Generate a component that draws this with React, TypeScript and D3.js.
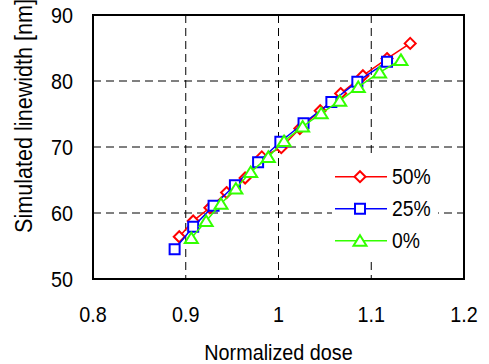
import React from 'react';
import * as d3 from 'd3';

// values
const dose50 = [0.893, 0.908, 0.926, 0.944, 0.964, 0.982, 1.003, 1.023, 1.045, 1.067, 1.091, 1.117, 1.142];
const lw50 = [56.4, 58.8, 60.8, 63.1, 65.3, 68.5, 69.9, 72.8, 75.5, 78.1, 80.8, 83.4, 85.7];
const dose25 = [0.888, 0.908, 0.930, 0.953, 0.978, 1.002, 1.027, 1.057, 1.085, 1.117];
const lw25 = [54.5, 57.9, 61.1, 64.2, 67.7, 70.8, 73.6, 76.8, 79.9, 82.9];
const dose0 = [0.906, 0.922, 0.938, 0.954, 0.970, 0.989, 1.006, 1.026, 1.046, 1.066, 1.086, 1.109, 1.132];
const lw0 = [56.2, 58.8, 61.4, 63.7, 66.2, 68.5, 70.9, 73.1, 75.1, 77.0, 79.1, 81.3, 83.2];

const xTicks = [0.8, 0.9, 1, 1.1, 1.2];
const xTickLabels = ['0.8', '0.9', '1', '1.1', '1.2'];
const yTicks = [50, 60, 70, 80, 90];
const seriesNames = ['50%', '25%', '0%'];

const W = 489;
const H = 364;
const plot = { left: 93, right: 464, top: 15, bottom: 279 };
const font = '"Liberation Sans", Arial, sans-serif';

const diamond = 'M0,-5.5L5.5,0L0,5.5L-5.5,0Z';
const square = 'M-5,-5H5V5H-5Z';
const triangle = 'M0,-5.5L6.5,5L-6.5,5Z';

const App = () => {
  const x = d3.scaleLinear().domain([0.8, 1.2]).range([plot.left, plot.right]);
  const y = d3.scaleLinear().domain([50, 90]).range([plot.bottom, plot.top]);
  const line = d3.line<[number, number]>().x(d => x(d[0])).y(d => y(d[1]));

  const series = [
    { name: seriesNames[0], color: '#ff0000', marker: diamond, pts: dose50.map((d, i) => [d, lw50[i]] as [number, number]) },
    { name: seriesNames[1], color: '#0000ff', marker: square, pts: dose25.map((d, i) => [d, lw25[i]] as [number, number]) },
    { name: seriesNames[2], color: '#33ff00', marker: triangle, pts: dose0.map((d, i) => [d, lw0[i]] as [number, number]) },
  ];

  const txt = (tx: number, ty: number, s: string, anchor: string, size = 22, rot = 0) => (
    <text
      transform={`translate(${tx},${ty}) rotate(${rot}) scale(0.9,1)`}
      textAnchor={anchor}
      fontSize={size}
      fontFamily={font}
      fill="#000"
    >
      {s}
    </text>
  );

  return (
    <svg width={W} height={H} style={{ position: 'absolute', left: 0, top: 0, background: '#fff' }}>
      {/* grid */}
      <g stroke="#000" strokeWidth={1} strokeDasharray="8,5">
        {xTicks.slice(1, -1).map(t => (
          <line key={'gx' + t} x1={x(t)} x2={x(t)} y1={plot.top} y2={plot.bottom} />
        ))}
        {yTicks.slice(1, -1).map(t => (
          <line key={'gy' + t} x1={plot.left} x2={plot.right} y1={y(t)} y2={y(t)} />
        ))}
      </g>

      {/* series */}
      {series.map(s => (
        <g key={s.name}>
          <path d={line(s.pts) || ''} fill="none" stroke={s.color} strokeWidth={1.5} />
          {s.pts.map((p, i) => (
            <path key={i} d={s.marker} transform={`translate(${x(p[0])},${y(p[1])})`}
              fill="#fff" stroke={s.color} strokeWidth={2} />
          ))}
        </g>
      ))}

      {/* legend */}
      <rect x={332} y={153} width={106} height={106} fill="#fff" />
      {series.map((s, i) => {
        const cy = 176.7 + i * 32;
        return (
          <g key={'lg' + s.name}>
            <line x1={335} x2={387} y1={cy} y2={cy} stroke={s.color} strokeWidth={1.5} />
            <path d={s.marker} transform={`translate(360,${cy})`} fill="#fff" stroke={s.color} strokeWidth={2} />
            {txt(392, cy + 7.5, s.name, 'start', 21.5)}
          </g>
        );
      })}

      {/* frame */}
      <rect x={plot.left} y={plot.top} width={plot.right - plot.left} height={plot.bottom - plot.top}
        fill="none" stroke="#000" strokeWidth={2} />

      {/* tick labels */}
      {xTicks.map((t, i) => (
        <g key={'xt' + t}>{txt(x(t), 322, xTickLabels[i], 'middle')}</g>
      ))}
      {yTicks.map(t => (
        <g key={'yt' + t}>{txt(73, y(t) + 8, String(t), 'end')}</g>
      ))}

      {/* axis titles */}
      {txt((plot.left + plot.right) / 2, 360, 'Normalized dose', 'middle', 22)}
      {txt(32, 233, 'Simulated linewidth [nm]', 'start', 24, -90)}
    </svg>
  );
};

export default App;
